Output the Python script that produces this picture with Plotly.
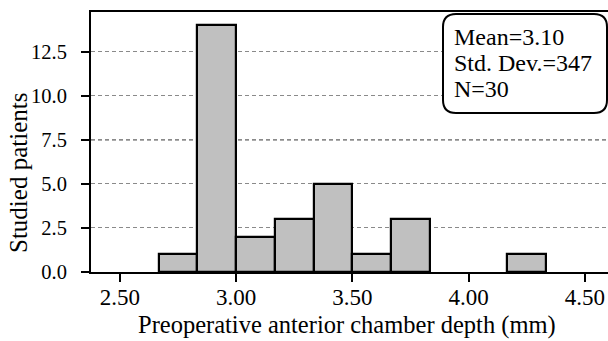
import plotly.graph_objects as go

bin_edges = [2.6667, 2.8333, 3.0, 3.1667, 3.3333, 3.5, 3.6667, 3.8333, 4.0, 4.1667, 4.3333]
counts = [1, 14, 2, 3, 5, 1, 3, 0, 0, 1]
x_ticks = [2.5, 3.0, 3.5, 4.0, 4.5]
x_tick_labels = ["2.50", "3.00", "3.50", "4.00", "4.50"]
y_ticks = [0, 2.5, 5.0, 7.5, 10.0, 12.5]
y_tick_labels = ["0.0", "2.5", "5.0", "7.5", "10.0", "12.5"]
stats_lines = ["Mean=3.10", "Std. Dev.=347", "N=30"]
x_title = "Preoperative anterior chamber depth (mm)"
y_title = "Studied patients"

idx = [i for i in range(len(counts)) if counts[i] > 0]
centers = [(bin_edges[i] + bin_edges[i + 1]) / 2 for i in idx]
widths = [bin_edges[i + 1] - bin_edges[i] for i in idx]
heights = [counts[i] for i in idx]

FONT = "Liberation Serif, Times New Roman, serif"

fig = go.Figure()
fig.add_trace(go.Bar(
    x=centers, y=heights, width=widths,
    marker=dict(color="#c0c0c0", line=dict(color="black", width=2.2)),
    showlegend=False,
))

W, H = 608, 341
ml, mr, mt, mb = 91, 0, 12, 69
fig.update_layout(
    width=W, height=H,
    margin=dict(l=ml, r=mr, t=mt, b=mb, pad=0),
    paper_bgcolor="white", plot_bgcolor="white",
    font=dict(family=FONT, size=20, color="black"),
    bargap=0,
    xaxis=dict(
        range=[2.3756, 4.599], tickvals=x_ticks, ticktext=x_tick_labels,
        showline=True, linecolor="black", linewidth=2, mirror=True,
        ticks="outside", ticklen=8, tickwidth=2, tickcolor="black",
        ticklabelstandoff=-5,
        showgrid=False, zeroline=False,
        tickfont=dict(family=FONT, size=23),
    ),
    yaxis=dict(
        range=[0, 14.76], tickvals=y_ticks, ticktext=y_tick_labels,
        showline=True, linecolor="black", linewidth=2,
        ticks="outside", ticklen=8, tickwidth=2, tickcolor="black",
        ticklabelstandoff=10,
        showgrid=True, gridcolor="#8a8a8a", griddash="4px,3px", gridwidth=1,
        zeroline=False,
        tickfont=dict(family=FONT, size=20.5),
    ),
)

# darker dashed line at 7.5 as in the reference
fig.add_shape(type="line", xref="paper", yref="y", x0=0, x1=1, y0=7.5, y1=7.5,
              line=dict(color="#222", width=1, dash="4px,3px"), layer="below")

pw, ph = W - ml - mr, H - mt - mb
def px(x):
    return (x - ml) / pw
def py(y):
    return (H - mb - y) / ph

# axis titles
fig.add_annotation(xref="paper", yref="paper", x=px(347), y=py(325), text=x_title,
                   showarrow=False, xanchor="center", yanchor="middle",
                   font=dict(family=FONT, size=24.5, color="black"))
fig.add_annotation(xref="paper", yref="paper", x=px(18), y=py(173), text=y_title,
                   showarrow=False, xanchor="center", yanchor="middle", textangle=-90,
                   font=dict(family=FONT, size=25, color="black"))

# rounded stats box
x0, x1, y0, y1 = 443, 607, 14, 113
r = 13
path = (f"M {px(x0 + r)},{py(y0)} L {px(x1 - r)},{py(y0)} "
        f"Q {px(x1)},{py(y0)} {px(x1)},{py(y0 + r)} L {px(x1)},{py(y1 - r)} "
        f"Q {px(x1)},{py(y1)} {px(x1 - r)},{py(y1)} L {px(x0 + r)},{py(y1)} "
        f"Q {px(x0)},{py(y1)} {px(x0)},{py(y1 - r)} L {px(x0)},{py(y0 + r)} "
        f"Q {px(x0)},{py(y0)} {px(x0 + r)},{py(y0)} Z")
fig.add_shape(type="path", xref="paper", yref="paper", path=path,
              line=dict(color="black", width=2), fillcolor="white", layer="above")

for i, t in enumerate(stats_lines):
    fig.add_annotation(xref="paper", yref="paper", x=px(452), y=py(37 + 26 * i),
                       xanchor="left", yanchor="middle", text=t, showarrow=False,
                       font=dict(family=FONT, size=24, color="black"))

fig.write_html("out.html")
